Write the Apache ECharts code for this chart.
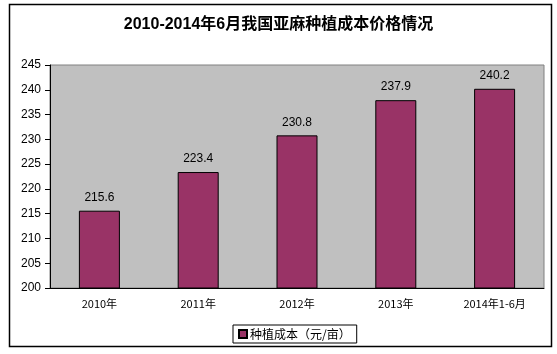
<!DOCTYPE html>
<html>
<head>
<meta charset="utf-8">
<script src="https://cdn.jsdelivr.net/npm/echarts@6/dist/echarts.min.js"></script>
<style>
  html, body { margin: 0; padding: 0; background: #fff; }
  #chart { width: 557px; height: 354px; }
</style>
</head>
<body>
<div id="chart"></div>
<script>
// 数据
var categories = ['2010年', '2011年', '2012年', '2013年', '2014年1-6月'];
var costValues = [215.6, 223.4, 230.8, 237.9, 240.2];
var seriesName = '种植成本（元/亩）';

let myChart = echarts.init(document.getElementById('chart'));

let option = {
    animation: false,
    backgroundColor: '#fff',
    title: {
        text: '2010-2014年6月我国亚麻种植成本价格情况',
        left: 'center',
        top: 12,
        textStyle: {
            fontFamily: 'Arial, "Noto Sans CJK SC"',
            fontSize: 16,
            fontWeight: 'bold',
            color: '#000'
        }
    },
    graphic: [
        {
            type: 'rect',
            shape: {x: 9.5, y: 4.5, width: 542, height: 342},
            style: {fill: 'none', stroke: '#000', lineWidth: 1.5},
            silent: true,
            z: -1
        }
    ],
    grid: {
        left: 50,
        top: 65,
        width: 494,
        height: 223,
        show: true,
        backgroundColor: '#c0c0c0',
        borderColor: '#808080',
        borderWidth: 1
    },
    legend: {
        data: [seriesName],
        left: 233,
        top: 325,
        itemWidth: 8,
        itemHeight: 8,
        itemGap: 4,
        padding: [3, 6, 3, 5],
        borderColor: '#000',
        borderWidth: 1,
        icon: 'rect',
        textStyle: {
            fontFamily: '"Noto Sans CJK SC"',
            fontSize: 12,
            color: '#000',
            padding: [0, 0, 0, -2]
        }
    },
    xAxis: {
        type: 'category',
        data: categories,
        axisLine: {lineStyle: {color: '#000', width: 1}},
        axisTick: {inside: true, length: 4, lineStyle: {color: '#000'}},
        axisLabel: {
            margin: 10,
            fontFamily: '"Noto Sans CJK SC"',
            fontSize: 11,
            color: '#000'
        }
    },
    yAxis: {
        type: 'value',
        min: 200,
        max: 245,
        interval: 5,
        axisLine: {show: true, lineStyle: {color: '#000', width: 1}},
        axisTick: {show: true, length: 5, lineStyle: {color: '#000'}},
        splitLine: {show: false},
        axisLabel: {
            margin: 9,
            fontFamily: 'Arial, "Liberation Sans"',
            fontSize: 12,
            color: '#000'
        }
    },
    series: [
        {
            name: seriesName,
            type: 'bar',
            barWidth: 41,
            data: costValues,
            itemStyle: {
                color: '#993366',
                borderColor: '#000',
                borderWidth: 1
            },
            label: {
                show: true,
                position: 'top',
                distance: 7,
                fontFamily: 'Arial, "Liberation Sans"',
                fontSize: 12,
                color: '#000'
            }
        }
    ]
};

myChart.setOption(option);
</script>
</body>
</html>
